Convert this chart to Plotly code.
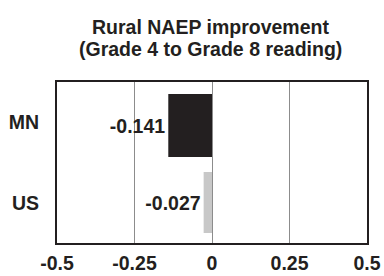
import plotly.graph_objects as go

categories = ["MN", "US"]
values = [-0.141, -0.027]
bar_colors = ["#231f20", "#c8c8c8"]
tick_vals = [-0.5, -0.25, 0, 0.25, 0.5]
tick_labels = ["-0.5", "-0.25", "0", "0.25", "0.5"]
title_lines = ["Rural NAEP improvement", "(Grade 4 to Grade 8 reading)"]

FONT = "Liberation Sans, Arial, sans-serif"
DARK = "#231f20"
FS = 19.5

fig = go.Figure(
    go.Bar(
        x=values,
        y=categories,
        orientation="h",
        marker=dict(color=bar_colors, line=dict(width=0)),
        text=[f"{v:.3f}" for v in values],
        texttemplate="<b>%{text}</b>",
        textposition="outside",
        textfont=dict(family=FONT, size=FS, color=DARK),
        cliponaxis=False,
        width=[0.783, 0.758],
        offset=[-0.351, -0.382],
    )
)

title_y = [1.342, 1.208]
for line, yy in zip(title_lines, title_y):
    fig.add_annotation(
        text="<b>" + line + "</b>",
        x=0.5,
        xref="paper",
        xanchor="center",
        xshift=-2,
        y=yy,
        yref="paper",
        yanchor="middle",
        showarrow=False,
        font=dict(family=FONT, size=FS, color=DARK),
    )

fig.update_layout(
    width=384,
    height=276,
    margin=dict(l=57, r=17, t=82, b=33, autoexpand=False),
    paper_bgcolor="white",
    plot_bgcolor="white",
    showlegend=False,
    font=dict(family=FONT, size=FS, color=DARK),
)

fig.update_xaxes(
    range=[-0.5, 0.5],
    tickvals=tick_vals,
    ticktext=["<b>" + t + "</b>" for t in tick_labels],
    showgrid=True,
    gridcolor="#8c8c8c",
    gridwidth=1,
    zeroline=True,
    zerolinecolor="#8c8c8c",
    zerolinewidth=1,
    showline=True,
    linecolor=DARK,
    linewidth=2,
    mirror=True,
    ticks="",
    ticklabelstandoff=2,
    automargin=False,
)
fig.update_yaxes(
    categoryorder="array",
    categoryarray=categories,
    autorange="reversed",
    tickvals=categories,
    ticktext=["<b>" + c + "</b>" for c in categories],
    showgrid=False,
    showline=True,
    linecolor=DARK,
    linewidth=2,
    mirror=True,
    ticks="",
    ticklabelstandoff=12,
    automargin=False,
)

fig.write_html(
    "out.html",
    config={"displayModeBar": False},
    post_script="document.body.style.margin='0';document.body.style.padding='0';",
)
